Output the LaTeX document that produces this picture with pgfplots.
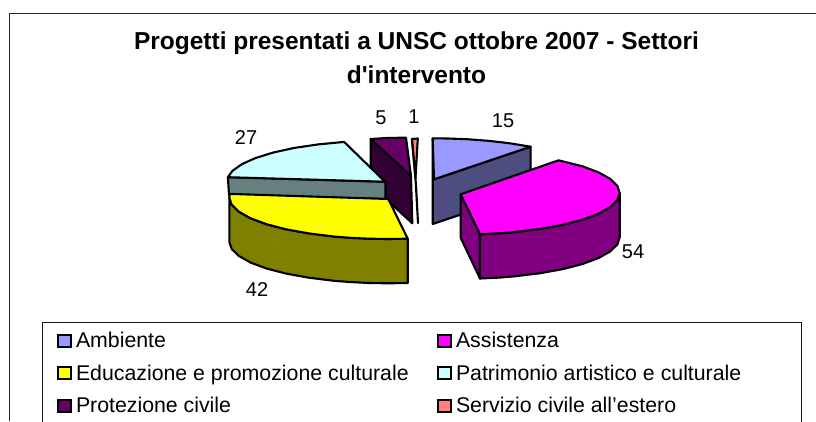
\documentclass[border=0pt]{standalone}
\usepackage{pgfplots}
\pgfplotsset{compat=1.18}
\usepackage{fontspec}
\setmainfont{Liberation Sans}
\definecolor{cAmb}{HTML}{9999FF}
\definecolor{cAmbS}{HTML}{4D4D80}
\definecolor{cAss}{HTML}{FF00FF}
\definecolor{cAssS}{HTML}{800080}
\definecolor{cEdu}{HTML}{FFFF00}
\definecolor{cEduS}{HTML}{808000}
\definecolor{cPat}{HTML}{CCFFFF}
\definecolor{cPatS}{HTML}{668080}
\definecolor{cPro}{HTML}{660066}
\definecolor{cProS}{HTML}{330033}
\definecolor{cSer}{HTML}{FF8080}
\definecolor{cSerS}{HTML}{804040}
\newcommand{\legsq}[1]{\addlegendimage{legend image code/.code={\draw[fill=#1,draw=black,line width=2pt] (1pt,-6pt) rectangle (14pt,6pt);}}}
\begin{document}
\begin{tikzpicture}
\begin{axis}[
  scale only axis, width=816pt, height=421pt,
  xmin=0, xmax=816, ymin=0, ymax=421, y dir=reverse,
  hide axis, clip=false,
  legend columns=2,
  legend cell align=left,
  legend style={at={(axis cs:41.5,322)}, anchor=north west, draw=black!90, line width=1pt,
    inner xsep=14.5pt, inner ysep=2pt,
    font=\fontsize{21.3}{24}\selectfont,
    nodes={inner sep=0pt, minimum height=32.5pt, anchor=west},
    /tikz/every odd column/.append style={column sep=4.5pt},
    /tikz/every even column/.append style={column sep=0pt},
  },
  poly/.style={draw=black, line width=2.1pt, line join=round, forget plot},
]
% frame
\addplot[forget plot, draw=black!85, line width=1.6pt, mark=none] coordinates {(9.5,421) (9.5,13.5) (816,13.5)};

\legsq{cAmb}\addlegendentry{\makebox[360.5pt][l]{Ambiente}}
\legsq{cAss}\addlegendentry{\makebox[330.5pt][l]{Assistenza}}
\legsq{cEdu}\addlegendentry{\makebox[360.5pt][l]{Educazione e promozione culturale}}
\legsq{cPat}\addlegendentry{\makebox[330.5pt][l]{Patrimonio artistico e culturale}}
\legsq{cPro}\addlegendentry{\makebox[360.5pt][l]{Protezione civile}}
\legsq{cSer}\addlegendentry{\makebox[330.5pt][l]{Servizio civile all’estero}}

% Protezione civile
\addplot[poly, fill=cProS] coordinates {(370.7,139) (411,176) (412.3,223.3) (370.7,185)} --cycle;
\addplot[poly, fill=cPro] coordinates {(370.7,139) (388,137.9) (406,137.7) (411,176)} --cycle;
% Servizio civile
\addplot[poly, fill=cSerS] coordinates {(412,139) (415.5,178) (418,223) (416,185)} --cycle;
\addplot[poly, fill=cSer] coordinates {(412,139) (417.8,138.5) (415.5,178)} --cycle;
% Ambiente
\addplot[poly, fill=cAmbS] coordinates {(432.7,138.3) (434,179.3) (530.6,146.7) (530.6,191) (432.7,224)} --cycle;
\addplot[poly, fill=cAmb] coordinates {(432.7,138.3) (447.9,138.5) (467.1,139.2) (488.4,140.8) (508.6,143.1) (530.6,146.7) (434,179.3)} --cycle;
% Patrimonio
\addplot[poly, fill=cPatS] coordinates {(227.9,177.2) (385.5,181.7) (385.5,199) (229,195)} --cycle;
\addplot[poly, fill=cPat] coordinates {(227.9,177.2) (232.4,170.9) (241.8,164.2) (255.6,158) (273.3,152.5) (294.3,147.9) (318.2,144.4) (344.1,141.9) (385,181.7)} --cycle;
% Educazione
\addplot[poly, fill=cEduS] coordinates {(229.3,197.5) (231.7,204.7) (238.9,211.7) (250.6,218.3) (266.5,224.2) (286.1,229.3) (308.8,233.4) (333.9,236.5) (349.8,237.8) (368.9,238.7) (388.3,239) (407.7,238.7) (407.7,283) (388.3,283.3) (368.9,283) (349.8,282) (333.9,280.8) (308.8,277.7) (286.1,273.6) (266.5,268.5) (250.6,262.6) (238.9,256) (231.7,249) (229.3,242)} --cycle;
\addplot[poly, fill=cEdu] coordinates {(229.9,193.9) (388.3,199) (407.7,238.7) (388.3,239) (368.9,238.7) (349.8,237.8) (333.9,236.5) (308.8,233.4) (286.1,229.3) (266.5,224.2) (250.6,218.3) (238.9,211.7) (231.7,204.7) (229.3,197.5)} --cycle;
% Assistenza
\addplot[poly, fill=cAssS] coordinates {(460.7,194.3) (480,234.2) (480,278.5) (460.7,238)} --cycle;
\addplot[poly, fill=cAssS] coordinates {(619.7,193) (617.3,200.2) (610.1,207.2) (598.4,213.8) (582.5,219.7) (562.9,224.8) (540.2,228.9) (515.1,232) (499.2,233.3) (480,234.2) (480,278.5) (499.2,277.6) (515.1,276.3) (540.2,273.2) (562.9,269.1) (582.5,264) (598.4,258.1) (610.1,251.5) (617.3,244.5) (619.7,237.3)} --cycle;
\addplot[poly, fill=cAss] coordinates {(460.7,194.3) (558.6,160.3) (582.5,166.3) (598.4,172.3) (610.1,178.8) (617.3,185.8) (619.7,193) (617.3,200.2) (610.1,207.2) (598.4,213.8) (582.5,219.7) (562.9,224.8) (540.2,228.9) (515.1,232) (499.2,233.3) (480,234.2)} --cycle;

% labels
\node[font=\fontsize{20}{24}\selectfont] at (axis cs:503,121) {15};
\node[font=\fontsize{20}{24}\selectfont] at (axis cs:633,252) {54};
\node[font=\fontsize{20}{24}\selectfont] at (axis cs:257,290) {42};
\node[font=\fontsize{20}{24}\selectfont] at (axis cs:246,138) {27};
\node[font=\fontsize{20}{24}\selectfont] at (axis cs:381,118) {5};
\node[font=\fontsize{20}{24}\selectfont] at (axis cs:414,117) {1};
% title
\node[font=\fontsize{24.5}{34}\selectfont\bfseries, align=center] at (axis cs:416.5,58) {Progetti presentati a UNSC ottobre 2007 - Settori\\d\textquotesingle intervento};
\end{axis}
\pgfresetboundingbox
\path[use as bounding box] (0,0) rectangle (816pt,421pt);
\end{tikzpicture}
\end{document}
